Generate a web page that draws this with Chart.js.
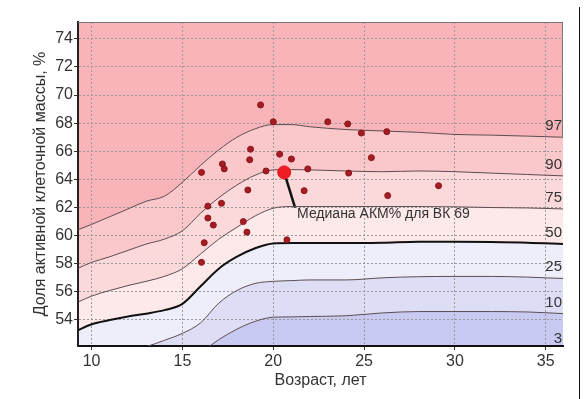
<!DOCTYPE html>
<html>
<head>
<meta charset="utf-8">
<script src="https://cdn.jsdelivr.net/npm/chart.js@4.4.1/dist/chart.umd.min.js"></script>
<style>
  html, body { margin: 0; padding: 0; background: #fff; }
  #wrap { position: relative; width: 584px; height: 399px; }
  #frame { position: absolute; left: 579px; top: 7px; width: 1px; height: 392px; background: #111; }
</style>
</head>
<body>
<div id="wrap">
  <canvas id="c" width="584" height="399"></canvas>
  <div id="frame"></div>
</div>
<script>
// Age grid shared by every centile curve (years)
const ages = [9.2, 10, 11, 12, 13, 14, 15, 16, 17, 18, 19, 20, 21, 22, 24, 26, 28, 30, 32, 34, 36];

// Centile curves of active cell mass share, %
const p97 = [60.4, 60.8, 61.35, 61.9, 62.45, 62.8, 63.8, 65.0, 66.1, 67.0, 67.6, 67.9, 67.9, 67.75, 67.55, 67.45, 67.35, 67.2, 67.15, 67.08, 67.0];
const p90 = [57.65, 58.1, 58.5, 58.95, 59.4, 59.75, 60.35, 61.6, 62.7, 63.6, 64.3, 64.68, 64.7, 64.68, 64.6, 64.55, 64.6, 64.55, 64.45, 64.35, 64.25];
const p75 = [55.25, 55.7, 56.1, 56.45, 56.75, 57.1, 57.65, 58.7, 59.75, 60.6, 61.4, 61.95, 62.07, 62.07, 62.07, 62.07, 62.07, 62.05, 62.0, 61.97, 61.9];
const p50 = [53.25, 53.7, 54.0, 54.25, 54.45, 54.7, 55.15, 56.4, 57.65, 58.5, 59.1, 59.45, 59.47, 59.47, 59.47, 59.5, 59.57, 59.57, 59.55, 59.5, 59.4];
const p25 = [50.9, 51.1, 51.4, 51.75, 52.1, 52.55, 53.05, 53.8, 55.2, 56.1, 56.6, 56.75, 56.8, 56.85, 56.85, 57.0, 57.08, 57.1, 57.1, 57.05, 56.95];
const p10 = [48.8, 49.0, 49.3, 49.6, 50.0, 50.4, 51.0, 51.7, 52.6, 53.35, 53.9, 54.2, 54.22, 54.25, 54.3, 54.5, 54.6, 54.6, 54.6, 54.57, 54.45];
const p3  = [46.5, 46.7, 47.0, 47.3, 47.6, 48.0, 48.5, 49.2, 50.0, 50.8, 51.3, 51.6, 51.65, 51.7, 51.75, 51.8, 51.85, 51.88, 51.9, 51.9, 51.86];

const centileNames = ['97', '90', '75', '50', '25', '10', '3'];
const centiles = [p97, p90, p75, p50, p25, p10, p3];

// Individual measurements
const sampleAges = [19.3, 20.0, 23.0, 24.1, 24.85, 26.25, 18.75, 18.7, 20.35, 21.0, 17.2, 17.3, 16.05, 19.6, 21.9, 24.15, 25.4, 18.6, 21.7, 16.4, 17.15, 16.4, 16.7, 18.35, 18.55, 16.2, 20.75, 16.05, 26.3, 29.1];
const sampleAKM  = [69.3, 68.1, 68.1, 67.95, 67.3, 67.4, 66.15, 65.4, 65.8, 65.45, 65.1, 64.75, 64.5, 64.6, 64.75, 64.45, 65.55, 63.25, 63.2, 62.1, 62.3, 61.25, 60.75, 61.0, 60.25, 59.5, 59.7, 58.1, 62.85, 63.55];

// Group median
const medianAge = 20.6;
const medianAKM = 64.5;
const medianLabel = 'Медиана АКМ% для ВК 69';

const xTitle = 'Возраст, лет';
const yTitle = 'Доля активной клеточной массы, %';

// Band colours from the top band (above P97) down to the P3–P10 band
const bandColors = ['#F8B4B8', '#FAC7CA', '#FBD8DA', '#FDE9EA', '#EEEEFA', '#DDDDF6', '#C9CAF2'];
const FONT = "'Liberation Sans', Arial, sans-serif";

const toXY = arr => ages.map((a, i) => ({ x: a, y: arr[i] }));

// Each centile line fills down to the next one below it
const curveSets = centiles.map((arr, i) => ({
  label: 'P' + centileNames[i],
  data: toXY(arr),
  fill: i < centiles.length - 1 ? '+1' : false,
  backgroundColor: i < centiles.length - 1 ? bandColors[i + 1] : 'transparent',
  borderColor: centileNames[i] === '50' ? '#111' : '#5c4c50',
  borderWidth: centileNames[i] === '50' ? 2 : 1,
  pointRadius: 0,
  cubicInterpolationMode: 'monotone',
  order: 2
}));

// Band above the highest centile
const topBand = {
  label: 'above P97',
  data: toXY(p97),
  fill: 'end',
  backgroundColor: bandColors[0],
  borderWidth: 0,
  pointRadius: 0,
  cubicInterpolationMode: 'monotone',
  order: 3
};

// Make sure every curve has its bezier control points before fills are drawn
const prepCurves = {
  id: 'prepCurves',
  afterUpdate(chart) {
    chart.getSortedVisibleDatasetMetas().forEach(m => {
      if (m.dataset && m.dataset.updateControlPoints) m.dataset.updateControlPoints(chart.chartArea, 'x');
    });
  }
};

// Value of a curve at a given age, by linear interpolation
function curveAt(arr, age) {
  for (let i = 1; i < ages.length; i++) {
    if (age <= ages[i]) {
      const t = (age - ages[i - 1]) / (ages[i] - ages[i - 1]);
      return arr[i - 1] + t * (arr[i] - arr[i - 1]);
    }
  }
  return arr[arr.length - 1];
}

const decor = {
  id: 'decor',
  beforeDatasetsDraw(chart) {
    const { ctx, scales: { x, y } } = chart;
    // leader from the median marker to its caption
    const x0 = x.getPixelForValue(medianAge), y0 = y.getPixelForValue(medianAKM);
    const x1 = x.getPixelForValue(medianAge + 0.6), y1 = y.getPixelForValue(medianAKM - 2.5);
    ctx.save();
    ctx.strokeStyle = '#111';
    ctx.lineWidth = 2.5;
    ctx.beginPath();
    ctx.moveTo(x0, y0);
    ctx.lineTo(x1, y1);
    ctx.stroke();
    ctx.fillStyle = '#333';
    ctx.font = '14px ' + FONT;
    ctx.textAlign = 'left';
    ctx.textBaseline = 'middle';
    ctx.fillText(medianLabel, x1 + 2, y1 + 7);
    ctx.restore();
  },
  afterDatasetsDraw(chart) {
    const { ctx, chartArea: ca, scales: { x, y } } = chart;
    ctx.save();
    // centile labels at the right edge
    ctx.fillStyle = '#333';
    ctx.font = '15px ' + FONT;
    ctx.textAlign = 'right';
    ctx.textBaseline = 'alphabetic';
    centiles.forEach((arr, i) => {
      const py = y.getPixelForValue(curveAt(arr, x.max));
      ctx.fillText(centileNames[i], ca.right - 1, py - 7);
    });
    // top and right frame of the plot
    ctx.strokeStyle = '#777';
    ctx.lineWidth = 1;
    ctx.beginPath();
    ctx.moveTo(ca.left, ca.top + 0.5);
    ctx.lineTo(ca.right, ca.top + 0.5);
    ctx.moveTo(ca.right - 0.5, ca.top);
    ctx.lineTo(ca.right - 0.5, y.getPixelForValue(curveAt(p97, x.max)));
    ctx.stroke();
    ctx.restore();
  }
};

new Chart(document.getElementById('c'), {
  type: 'line',
  data: {
    datasets: [
      topBand,
      ...curveSets,
      {
        label: 'samples',
        data: sampleAges.map((a, i) => ({ x: a, y: sampleAKM[i] })),
        showLine: false,
        pointRadius: 3,
        pointBackgroundColor: '#A51C22',
        pointBorderColor: '#8A1419',
        pointBorderWidth: 1,
        order: 1
      },
      {
        label: 'median',
        data: [{ x: medianAge, y: medianAKM }],
        showLine: false,
        pointRadius: 6.5,
        pointBackgroundColor: '#EE1C25',
        pointBorderColor: '#E81820',
        pointBorderWidth: 1,
        order: 0
      }
    ]
  },
  options: {
    responsive: false,
    animation: false,
    devicePixelRatio: 1,
    layout: { padding: { top: 22, right: 21, left: 0, bottom: 0 } },
    plugins: {
      legend: { display: false },
      tooltip: { enabled: false },
      filler: { drawTime: 'beforeDraw' }
    },
    scales: {
      x: {
        type: 'linear',
        min: 9.25,
        max: 35.95,
        afterFit(s) { s.height = 53; },
        ticks: { stepSize: 5, includeBounds: false, color: '#333', font: { family: FONT, size: 16 }, padding: 2, maxRotation: 0 },
        grid: { color: '#9a9a9a', lineWidth: 1, tickLength: 4, tickColor: '#333' },
        border: { color: '#111', width: 2, dash: [2, 2] },
        title: { display: true, text: xTitle, color: '#333', font: { family: FONT, size: 16 }, padding: { top: 0, bottom: 8.4 } }
      },
      y: {
        type: 'linear',
        min: 52.15,
        max: 75.2,
        afterFit(s) { s.width = 78; },
        ticks: { stepSize: 2, includeBounds: false, color: '#333', font: { family: FONT, size: 16 }, padding: 1 },
        grid: { color: '#9a9a9a', lineWidth: 1, tickLength: 4, tickColor: '#333' },
        border: { color: '#222', width: 2, dash: [2, 2] },
        title: { display: true, text: yTitle, color: '#333', font: { family: FONT, size: 16 }, padding: { top: 31.4, bottom: 0 } }
      }
    }
  },
  plugins: [prepCurves, decor]
});
</script>
</body>
</html>
